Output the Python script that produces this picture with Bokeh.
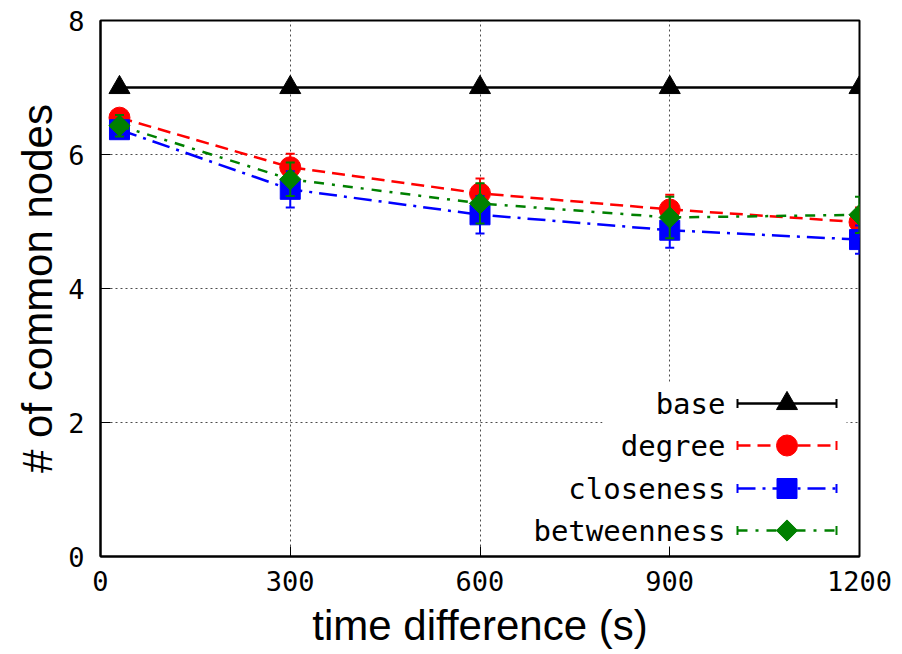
import math
from bokeh.plotting import figure
from bokeh.models import Range1d, FixedTicker, Label, BoxAnnotation
from bokeh.embed import file_html
from bokeh.resources import INLINE

# ---- data ----
time_diff = [30, 300, 600, 900, 1200]
base = [7, 7, 7, 7, 7]
degree = [6.55, 5.81, 5.42, 5.18, 4.99]
degree_err = [0.12, 0.20, 0.22, 0.22, 0.22]
closeness = [6.37, 5.48, 5.10, 4.87, 4.73]
closeness_err = [0.12, 0.27, 0.28, 0.26, 0.21]
betweenness = [6.43, 5.63, 5.27, 5.06, 5.10]
betweenness_err = [0.16, 0.25, 0.30, 0.31, 0.27]
x_ticks = [0, 300, 600, 900, 1200]
y_ticks = [0, 2, 4, 6, 8]
series_names = ["base", "degree", "closeness", "betweenness"]

MONO = "DejaVu Sans Mono"
SANS = "Liberation Sans"

p = figure(width=902, height=654, x_range=Range1d(0, 1200), y_range=Range1d(0, 8),
           output_backend="svg", toolbar_location=None,
           min_border_left=100, min_border_right=43, min_border_top=20, min_border_bottom=98)
p.background_fill_color = "white"
p.border_fill_color = "white"
p.outline_line_color = "black"
p.outline_line_width = 2

for ax in (p.xaxis, p.yaxis):
    ax.major_tick_in = 10
    ax.major_tick_out = 0
    ax.minor_tick_line_color = None
    ax.major_tick_line_color = "black"
    ax.major_tick_line_width = 1
    ax.axis_line_color = "black"
    ax.axis_line_width = 2
    ax.major_label_text_font = MONO
    ax.major_label_text_font_size = "27px"
    ax.major_label_text_color = "black"
    ax.axis_label_text_font = SANS
    ax.axis_label_text_font_size = "42px"
    ax.axis_label_text_font_style = "normal"
    ax.axis_label_text_color = "black"

p.xaxis.ticker = FixedTicker(ticks=x_ticks)
p.yaxis.ticker = FixedTicker(ticks=y_ticks)
p.xaxis.axis_label = "time difference (s)"
p.yaxis.axis_label = "# of common nodes"
p.xaxis.major_label_standoff = 14
p.yaxis.major_label_standoff = 16
p.xaxis.axis_label_standoff = 8
p.yaxis.axis_label_standoff = 4

p.xgrid.ticker = FixedTicker(ticks=x_ticks)
p.ygrid.ticker = FixedTicker(ticks=y_ticks)
for g in (p.xgrid, p.ygrid):
    g.grid_line_color = "black"
    g.grid_line_alpha = 0.7
    g.grid_line_dash = "2 3"
    g.grid_line_width = 1

LW = 2.5

# base series
p.line(time_diff, base, line_color="black", line_width=LW)
p.scatter(time_diff, base, marker="triangle", size=21, fill_color="black", line_color="black")

def draw_series(y, err, color, dash, marker, size, angle=0.0):
    lo = [a - b for a, b in zip(y, err)]
    hi = [a + b for a, b in zip(y, err)]
    p.line(time_diff, y, line_color=color, line_width=LW, line_dash=dash)
    p.segment(x0=time_diff, y0=lo, x1=time_diff, y1=hi, line_color=color, line_width=2)
    p.scatter(time_diff, lo, marker="dash", size=9, line_color=color, line_width=2)
    p.scatter(time_diff, hi, marker="dash", size=9, line_color=color, line_width=2)
    p.scatter(time_diff, y, marker=marker, size=size, fill_color=color, line_color=color, angle=angle)

RED, BLUE, GREEN = "#ff0000", "#0000ff", "#008000"
styles = [
    ("black", "solid", "triangle", 21, 0.0),
    (RED, "13 7", "circle", 21, 0.0),
    (BLUE, "18 7 3 7", "square", 20, 0.0),
    (GREEN, "10 8 3 8", "square", 15, math.pi / 4),
]
draw_series(degree, degree_err, *styles[1])
draw_series(closeness, closeness_err, *styles[2])
draw_series(betweenness, betweenness_err, *styles[3])

# ---- legend (key drawn in frame-pixel ranges) ----
p.extra_x_ranges = {"lg": Range1d(0, 759)}
p.extra_y_ranges = {"lg": Range1d(536, 0)}
box = BoxAnnotation(left=502, right=746, top=363, bottom=527, x_range_name="lg", y_range_name="lg",
                    fill_color="white", fill_alpha=1.0, line_color=None, level="underlay")
p.add_layout(box)

row_y = [383, 425, 468, 510]
for name, (color, dash, marker, size, angle), yr in zip(series_names, styles, row_y):
    p.segment(x0=[637], y0=[yr], x1=[736], y1=[yr], line_color=color, line_width=LW,
              line_dash=dash, x_range_name="lg", y_range_name="lg")
    p.scatter([637, 736], [yr, yr], marker="dash", angle=math.pi / 2, size=9, line_color=color,
              line_width=2, x_range_name="lg", y_range_name="lg")
    p.scatter([686.5], [yr], marker=marker, size=size, angle=angle, fill_color=color, line_color=color,
              x_range_name="lg", y_range_name="lg")
    p.add_layout(Label(x=625, y=yr, x_range_name="lg", y_range_name="lg", text=name,
                       text_align="right", text_baseline="middle", text_font=MONO,
                       text_font_size="29px", text_color="black"))

open("out.html", "w").write(file_html(p, INLINE))
